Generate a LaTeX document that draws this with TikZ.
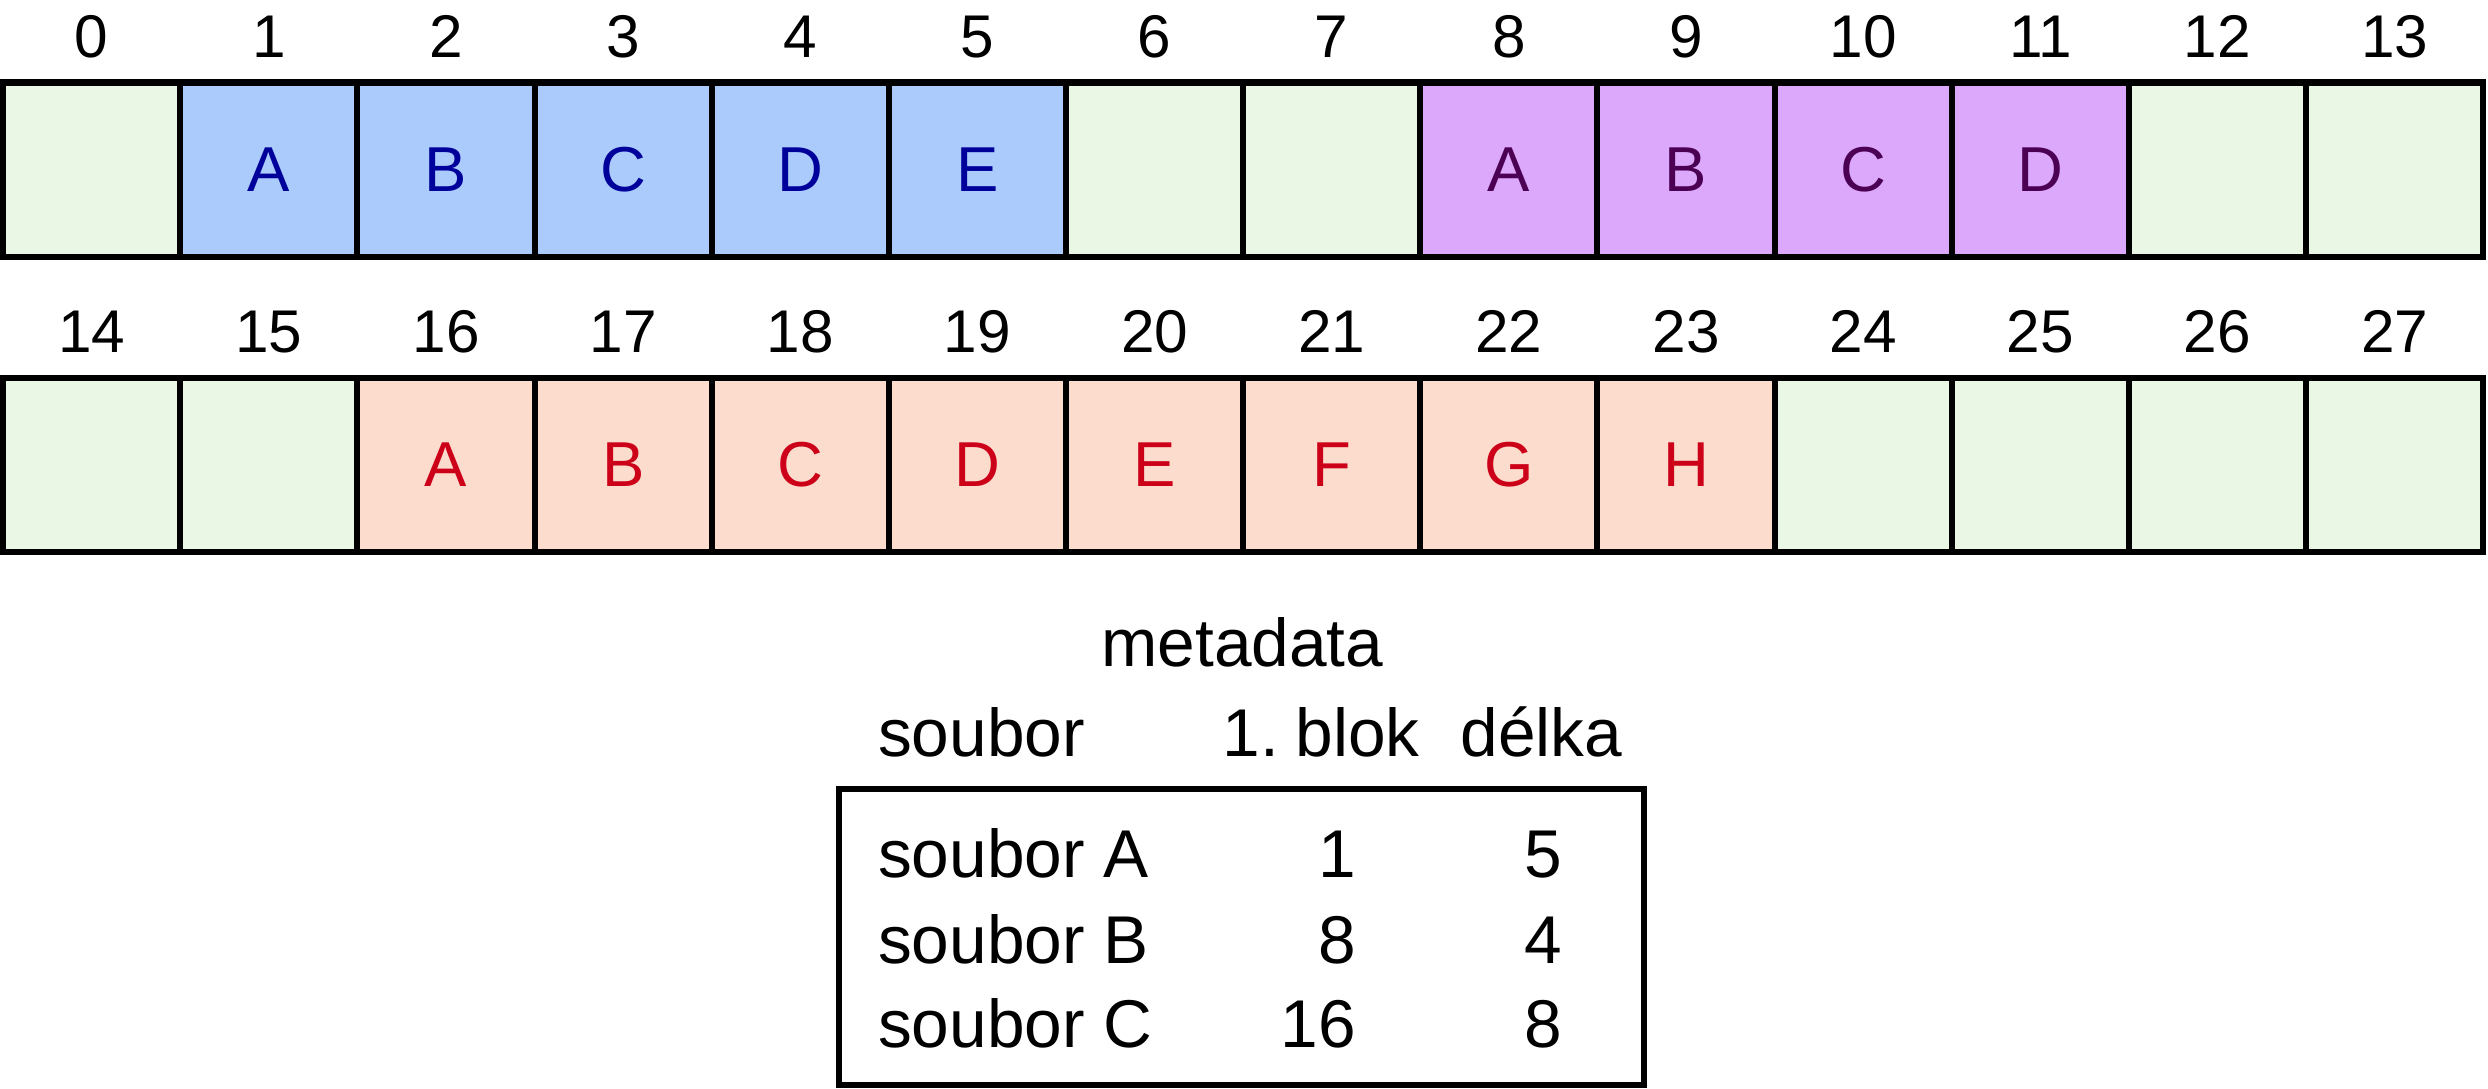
\documentclass[tikz,border=0pt]{standalone}
\usepackage{fontspec}
\setmainfont{Liberation Sans}
\definecolor{freefill}{HTML}{E9F7E4}
\definecolor{afill}{HTML}{AACBFC}
\definecolor{atext}{HTML}{00009A}
\definecolor{bfill}{HTML}{DCA8FB}
\definecolor{btext}{HTML}{4C0054}
\definecolor{cfill}{HTML}{FCDCCC}
\definecolor{ctext}{HTML}{CC0018}
\tikzset{
  cell/.style={draw, line width=1.9pt, minimum width=55.82pt, minimum height=55pt, inner sep=0pt,
    font=\fontsize{20}{24}\selectfont},
  free/.style={fill=freefill},
  fa/.style={fill=afill, text=atext},
  fb/.style={fill=bfill, text=btext},
  fc/.style={fill=cfill, text=ctext},
  num/.style={anchor=base, inner sep=0pt, font=\fontsize{19}{23}\selectfont},
  meta/.style={inner sep=0pt, font=\fontsize{21.3}{25}\selectfont},
}
\begin{document}
\begin{tikzpicture}[x=0.5pt,y=-0.5pt]
\useasboundingbox (0,0) rectangle (1568,686);
\foreach \i/\st/\lab in {0/free/{},1/fa/A,2/fa/B,3/fa/C,4/fa/D,5/fa/E,6/free/{},7/free/{},
  8/fb/A,9/fb/B,10/fb/C,11/fb/D,12/free/{},13/free/{},
  14/free/{},15/free/{},16/fc/A,17/fc/B,18/fc/C,19/fc/D,20/fc/E,21/fc/F,22/fc/G,23/fc/H,
  24/free/{},25/free/{},26/free/{},27/free/{}}{
  \pgfmathsetmacro\col{mod(\i,14)}
  \pgfmathsetmacro\rw{int(\i/14)}
  \pgfmathsetmacro\cx{2+111.64*(\col+0.5)}
  \pgfmathsetmacro\cy{\rw==0?107:293}
  \node[cell,\st] (c\i) at (\cx,\cy) {\lab};
  \node[num] (n\i) at (\cx,\cy-71) {\i};
}
\node[meta, anchor=base] (meta) at (783,420) {metadata};
\node[meta, anchor=base west] (hs) at (553,477) {soubor};
\node[meta, anchor=base west] (hb) at (770,477) {1.\hspace{-0.12em} blok};
\node[meta, anchor=base west] (hd) at (920,477) {délka};
\node[draw, line width=1.9pt, minimum width=253.5pt, minimum height=93.5pt, inner sep=0pt] (tab) at (782.5,590.5) {};
\node[meta, anchor=base west] (ra) at (553,553) {soubor A};
\node[meta, anchor=base west] (rb) at (553,607) {soubor B};
\node[meta, anchor=base west] (rc) at (553,660) {soubor C};
\node[meta, anchor=base east] (ba) at (855,553) {1};
\node[meta, anchor=base east] (bb) at (855,607) {8};
\node[meta, anchor=base east] (bc) at (855,660) {16};
\node[meta, anchor=base east] (da) at (985,553) {5};
\node[meta, anchor=base east] (db) at (985,607) {4};
\node[meta, anchor=base east] (dc) at (985,660) {8};
\end{tikzpicture}
\end{document}
